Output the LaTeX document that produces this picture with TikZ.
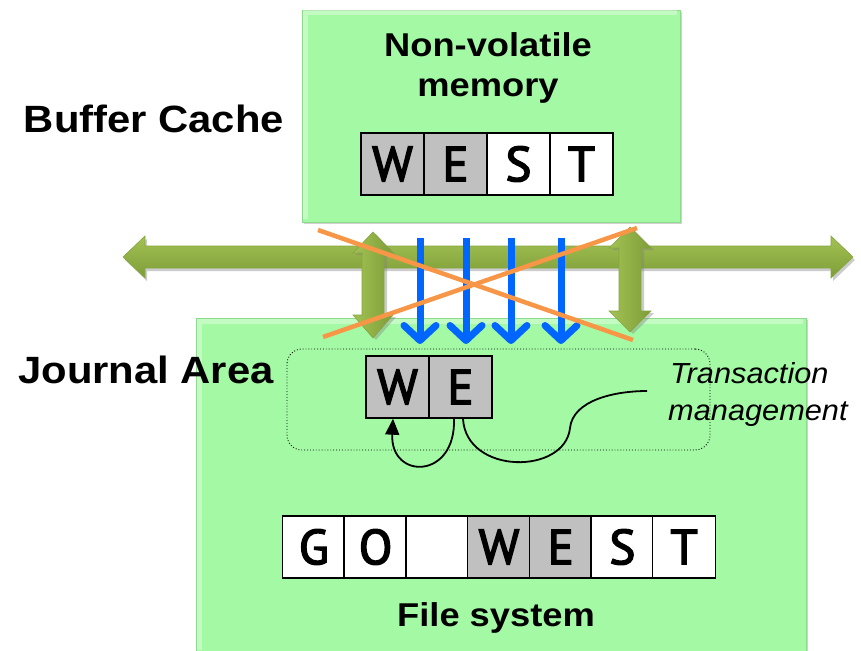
\documentclass[tikz,border=0pt]{standalone}
\usepackage{fontspec}
\setmainfont{Liberation Sans}
\newfontfamily\cellfont[FakeBold=3]{PT Sans}
\usetikzlibrary{arrows.meta,shadows}

\definecolor{boxgreen}{HTML}{A4FAA4}
\definecolor{boxedge}{HTML}{8FD98F}
\definecolor{busLight}{HTML}{A2C254}
\definecolor{busDark}{HTML}{7E9D38}
\definecolor{busEdge}{HTML}{86A63F}
\definecolor{cellgray}{HTML}{C0C0C0}
\definecolor{arrowblue}{HTML}{0066FF}
\definecolor{crossorange}{HTML}{F79646}

\newcommand{\wideText}[1]{\scalebox{1.1}[1]{#1}}

\begin{document}
\begin{tikzpicture}[x=1pt,y=-1pt,
  greenbox/.style={fill=boxgreen, draw=boxedge, line width=0.8pt, inner sep=0pt,
    drop shadow={shadow xshift=2pt, shadow yshift=-2pt, opacity=0.35}},
  cell/.style={draw=black, line width=1.4pt, minimum width=63pt, minimum height=62pt,
    inner sep=0pt, font=\cellfont\fontsize{49}{49}\selectfont},
  graycell/.style={cell, fill=cellgray},
  whitecell/.style={cell, fill=white},
  boldlabel/.style={font=\bfseries\fontsize{38}{38}\selectfont, anchor=base, inner sep=0pt},
  boxtitle/.style={font=\bfseries\fontsize{33}{33}\selectfont, anchor=base, inner sep=0pt},
  italiclabel/.style={font=\itshape\fontsize{29}{29}\selectfont, anchor=base west, inner sep=0pt},
  busarrow/.style={top color=busLight, bottom color=busDark, draw=busEdge, line width=0.6pt,
    drop shadow={shadow xshift=2pt, shadow yshift=-3pt, opacity=0.4}},
  vbusarrow/.style={left color=busLight, right color=busDark, draw=busEdge, line width=0.6pt,
    drop shadow={shadow xshift=3pt, shadow yshift=-2pt, opacity=0.4}},
  bluearrow/.style={draw=arrowblue, line width=7pt,
    -{Straight Barb[length=15pt, width=32pt, round]}},
  crossline/.style={draw=crossorange, line width=4.5pt},
  journalframe/.style={draw=black, dotted, line width=0.9pt, rounded corners=15pt},
  curve/.style={draw=black, line width=1.8pt}
]
\useasboundingbox (0,0) rectangle (861,650);
\clip (0,0) rectangle (861,650);
\fill[white] (0,0) rectangle (861,650);

% the two memory boxes
\node[greenbox, minimum width=378pt, minimum height=212pt] (nvm) at (491,116) {};
\node[greenbox, minimum width=610pt, minimum height=344pt] (fs) at (501,490) {};

% light bevel on the box edges
\draw[white, opacity=0.35, line width=5pt] (305,219) -- (305,13) -- (677,13);
\draw[white, opacity=0.35, line width=5pt] (199,650) -- (199,321) -- (803,321);

% box titles
\node[boxtitle] (nvmtitle) at (488,57) {\wideText{Non-volatile}};
\node[boxtitle] (nvmtitle2) at (488,97) {\wideText{memory}};
\node[boxtitle] (fstitle) at (496,626) {\wideText{File system}};

% side labels
\node[boldlabel] (bclabel) at (154,132) {\wideText{Buffer Cache}};
\node[boldlabel] (jalabel) at (146,383) {\wideText{Journal Area}};

% cached blocks
\node[graycell]  (t1) at (392.5,164) {W};
\node[graycell]  (t2) at (455.5,164) {E};
\node[whitecell] (t3) at (518.5,164) {S};
\node[whitecell] (t4) at (581.5,164) {T};

% journal area
\node[journalframe, minimum width=423pt, minimum height=101pt] (jframe) at (498.5,399.5) {};
\node[graycell] (jw) at (397.5,387) {W};
\node[graycell] (je) at (460.5,387) {E};

% file system blocks
\node[whitecell] (f1) at (313.9,547) {G};
\node[whitecell] (f2) at (375.6,547) {O};
\node[whitecell] (f3) at (437.3,547) {};
\node[graycell]  (f4) at (499.0,547) {W};
\node[graycell]  (f5) at (560.7,547) {E};
\node[whitecell] (f6) at (622.4,547) {S};
\node[whitecell] (f7) at (684.1,547) {T};

% horizontal memory bus
\path[busarrow] (123,257) -- (145,236) -- (145,246) -- (831,246) -- (831,236)
  -- (853,257) -- (831,278) -- (831,268) -- (145,268) -- (145,278) -- cycle;

% vertical bus links
\path[vbusarrow] (373,232) -- (393,253) -- (384,253) -- (384,315) -- (393,315)
  -- (373,338) -- (353,315) -- (362,315) -- (362,253) -- (353,253) -- cycle;
\path[vbusarrow] (630,227) -- (651,248) -- (641,248) -- (641,311) -- (651,311)
  -- (630,332) -- (609,311) -- (619,311) -- (619,248) -- (609,248) -- cycle;

% direct writes into the journal
\coordinate (b1s) at (420,238); \coordinate (b1e) at (420,344);
\coordinate (b2s) at (466,238); \coordinate (b2e) at (466,344);
\coordinate (b3s) at (511,238); \coordinate (b3e) at (511,344);
\coordinate (b4s) at (561,238); \coordinate (b4e) at (561,344);
\draw[bluearrow] (b1s) -- (b1e);
\draw[bluearrow] (b2s) -- (b2e);
\draw[bluearrow] (b3s) -- (b3e);
\draw[bluearrow] (b4s) -- (b4e);

% crossed-out path
\coordinate (x1a) at (318,230); \coordinate (x1b) at (633,340);
\coordinate (x2a) at (323,337); \coordinate (x2b) at (637,228);
\draw[crossline] (x1a) -- (x1b);
\draw[crossline] (x2a) -- (x2b);

% transaction management
\draw[curve, -{Triangle[length=16pt, width=14pt]}]
  ([xshift=-6.5pt]je.south) .. controls (456,480) and (390,480) .. ([xshift=-4.5pt]jw.south);
\coordinate (tmend) at (647,391);
\draw[curve] ([xshift=2.5pt]je.south) .. controls (466,475) and (565,475) .. (570,428)
  .. controls (573,400) and (615,391) .. (tmend);
\node[italiclabel] (tm1) at (670,383) {\scalebox{1.06}[1]{Transaction}};
\node[italiclabel] (tm2) at (668,420) {\scalebox{1.06}[1]{management}};
\end{tikzpicture}
\end{document}
